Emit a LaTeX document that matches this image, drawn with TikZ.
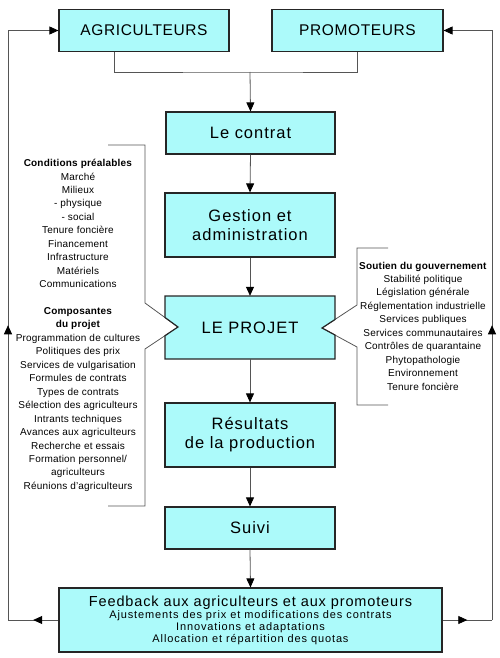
\documentclass[tikz,border=0pt]{standalone}
\usepackage{fontspec}
\setmainfont{Liberation Sans}
\usetikzlibrary{arrows.meta,decorations.markings}
\definecolor{boxfill}{RGB}{172,250,250}
\definecolor{linegray}{RGB}{85,85,85}
\begin{document}
\begin{tikzpicture}[x=1pt,y=-1pt,
  box/.style={draw=black!85, line width=1.2pt, fill=boxfill, inner sep=0pt, align=center,
    minimum width=170pt},
  bigfont/.style={font=\fontsize{16.5}{19}\selectfont\addfontfeature{LetterSpace=6}},
  capfont/.style={font=\fontsize{15.5}{18}\selectfont\addfontfeature{LetterSpace=4}},
  listtext/.style={align=center, inner sep=0pt, font=\fontsize{10}{13.45}\selectfont\addfontfeature{LetterSpace=2}},
  conn/.style={draw=linegray, line width=0.8pt},
  tip/.style={-{Triangle[length=9pt,width=8pt,color=black]}},
  arr/.style={conn, tip},
  midarrow/.style={postaction={decorate}, decoration={markings,
    mark=at position 0.5 with {\arrow{Triangle[length=9pt,width=8pt,color=black]}}}}
]
\useasboundingbox (0,0) rectangle (500,658);

% top boxes
\node[box, capfont, minimum height=42pt] (agri) at (144,30.5) {AGRICULTEURS};
\node[box, capfont, minimum height=42pt, minimum width=171pt] (promo) at (357.5,30.5) {PROMOTEURS};

% main column
\node[box, bigfont, minimum height=42pt, minimum width=169pt] (contrat) at (250.5,133) {Le contrat};
\node[box, bigfont, minimum height=64pt] (gestion) at (250,225) {Gestion et\\administration};
\node[bigfont, inner sep=0pt, minimum width=170pt, minimum height=63pt] (projet) at (250,327.5) {};
\node[box, bigfont, minimum height=64pt] (resultats) at (250,435) {Résultats\\de la production};
\node[box, bigfont, minimum height=42pt] (suivi) at (250,528) {Suivi};
\node[box, minimum height=64pt, minimum width=383pt,
  font=\fontsize{11}{12}\selectfont\addfontfeature{LetterSpace=8}] (feedback) at (250.5,620)
  {{\fontsize{14.5}{12}\selectfont\addfontfeature{LetterSpace=6}Feedback aux agriculteurs et aux promoteurs}\\
   Ajustements des prix et modifications des contrats\\
   Innovations et adaptations\\
   Allocation et répartition des quotas};

% brackets
\draw[conn] (108,145) -- (145,145) -- (145,303) -- (178,327) -- (145,349) -- (145,506) -- (108,506);
\draw[conn] (388,248) -- (357,248) -- (357,305) -- (322,328) -- (357,347) -- (357,405) -- (388,405);

% notched project box
\draw[draw=black!85, line width=1.2pt, fill=boxfill]
  (165,296) -- (335,296) -- (335,319.5) -- (322,328) -- (335,335) -- (335,359)
  -- (165,359) -- (165,335.7) -- (178,327) -- (165,317.5) -- cycle;
\node[bigfont, inner sep=0pt] (projetlabel) at (projet.center) {LE PROJET};

% side lists
\node[listtext] (cond) at (78,223.5) {\textbf{Conditions préalables}\\Marché\\Milieux\\- physique\\- social\\Tenure foncière\\Financement\\Infrastructure\\Matériels\\Communications};
\node[listtext] (comp) at (78,399.5) {\textbf{Composantes}\\\textbf{du projet}\\Programmation de cultures\\Politiques des prix\\Services de vulgarisation\\Formules de contrats\\Types de contrats\\Sélection des agriculteurs\\Intrants techniques\\Avances aux agriculteurs\\Recherche et essais\\Formation personnel/\\agriculteurs\\Réunions d'agriculteurs};
\node[listtext] (gouv) at (423,326) {\textbf{Soutien du gouvernement}\\Stabilité politique\\Législation générale\\Réglementation industrielle\\Services publiques\\Services communautaires\\Contrôles de quarantaine\\Phytopathologie\\Environnement\\Tenure foncière};

% top connectors
\coordinate (j) at (250,72);
\draw[conn] ([xshift=-30pt]agri.south) |- (j) -| (promo.south);
\draw[arr] (j) -- (contrat.north);
\draw[arr] (contrat.south) -- (gestion.north);
\draw[arr] (gestion.south) -- (projet.north);
\draw[arr] (projet.south) -- (resultats.north);
\draw[arr] (resultats.south) -- (suivi.north);
\draw[arr] (suivi.south) -- (feedback.north);

% feedback loops
\coordinate (lc) at (8,620);
\coordinate (lt) at (8,30.5);
\coordinate (rc) at (492,620);
\coordinate (rt) at (492,30.5);
\draw[conn, midarrow] (feedback.west) -- (lc);
\draw[conn, midarrow] (lc) -- (lt);
\draw[arr] (lt) -- (agri.west);
\draw[conn, midarrow] (feedback.east) -- (rc);
\draw[conn, midarrow] (rc) -- (rt);
\draw[arr] (rt) -- (promo.east);
\end{tikzpicture}
\end{document}
